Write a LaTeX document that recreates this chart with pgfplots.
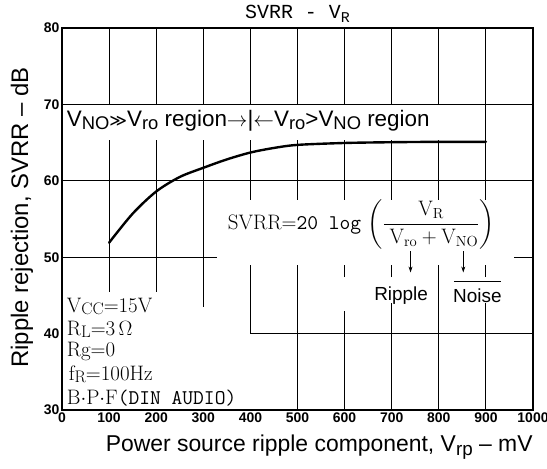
\documentclass[border=0pt]{standalone}
\usepackage{amsmath}
\usepackage{pgfplots}
\pgfplotsset{compat=1.18}
\usepackage{fontspec}
\newfontfamily\hv{Liberation Sans}
\newfontfamily\mono{Liberation Mono}
\newfontfamily\dv{DejaVu Sans}
\usetikzlibrary{arrows.meta}
\newcommand{\sbs}[1]{\raisebox{-0.3ex}{\scalebox{0.82}{#1}}}
\newcommand{\sbc}[1]{\raisebox{-0.22ex}{\scalebox{0.8}{#1}}}
\pgfplotstableread{
x y
100 51.9
150 55.7
200 58.6
250 60.5
300 61.7
350 62.8
400 63.7
450 64.3
500 64.7
600 64.95
700 65.05
800 65.1
900 65.1
}\curve
\begin{document}
\begin{tikzpicture}
\begin{axis}[
  scale only axis, width=471bp, height=382bp,
  xmin=0, xmax=1000, ymin=30, ymax=80,
  xtick={0,100,...,1000}, ytick={30,40,...,80},
  major tick length=0pt,
  tick label style={font=\hv\bfseries\fontsize{14}{14}\selectfont},
  xticklabel style={yshift=1pt},
  yticklabel style={xshift=1pt},
  /pgf/number format/assume math mode=true,
  /pgf/number format/1000 sep={},
  axis line style={line width=1.4pt},
  clip=false,
  xlabel={Power source ripple component, V\sbs{rp} – mV},
  ylabel={Ripple rejection, SVRR – dB},
  xlabel style={font=\hv\fontsize{23}{23}\selectfont, at={(axis description cs:0.546,-0.097)}, anchor=center},
  ylabel style={font=\hv\fontsize{24}{24}\selectfont, at={(axis description cs:-0.085,0.504)}, anchor=center},
]
% title
\node[anchor=base, inner sep=0pt] at (axis description cs:0.50,1.026)
  {\mono\fontsize{20}{20}\selectfont SVRR - V\raisebox{-0.4ex}{\fontsize{15}{15}\selectfont R}};
% grid segments
\begin{scope}[line width=1.1pt]
\draw (axis cs:0,70) -- (axis cs:1000,70);
\draw (axis cs:0,60) -- (axis cs:1000,60);
\draw (axis cs:0,50) -- (axis cs:330,50);
\draw (axis cs:960,50) -- (axis cs:1000,50);
\draw (axis cs:400,40) -- (axis cs:1000,40);
% x=100
\draw (axis cs:100,70) -- (axis cs:100,80);
\draw (axis cs:100,45.5) -- (axis cs:100,65.4);
% x=200
\draw (axis cs:200,70) -- (axis cs:200,80);
\draw (axis cs:200,45.5) -- (axis cs:200,65.4);
% x=300
\draw (axis cs:300,70) -- (axis cs:300,80);
\draw (axis cs:300,43.5) -- (axis cs:300,65.4);
% x=400
\draw (axis cs:400,70) -- (axis cs:400,80);
\draw (axis cs:400,57.5) -- (axis cs:400,65.4);
\draw (axis cs:400,40) -- (axis cs:400,49);
% x=500
\draw (axis cs:500,70) -- (axis cs:500,80);
\draw (axis cs:500,57.5) -- (axis cs:500,65.4);
\draw (axis cs:500,30) -- (axis cs:500,49);
% x=600
\draw (axis cs:600,70) -- (axis cs:600,80);
\draw (axis cs:600,57.5) -- (axis cs:600,65.4);
\draw (axis cs:600,30) -- (axis cs:600,43);
\draw (axis cs:600,47.4) -- (axis cs:600,49);
% x=700
\draw (axis cs:700,70) -- (axis cs:700,80);
\draw (axis cs:700,57.5) -- (axis cs:700,65.4);
\draw (axis cs:700,30) -- (axis cs:700,44.0);
\draw (axis cs:700,47.4) -- (axis cs:700,49);
% x=800
\draw (axis cs:800,70) -- (axis cs:800,80);
\draw (axis cs:800,57.5) -- (axis cs:800,65.4);
\draw (axis cs:800,30) -- (axis cs:800,49);
% x=900
\draw (axis cs:900,57.5) -- (axis cs:900,80);
\draw (axis cs:900,30) -- (axis cs:900,44.0);
\draw (axis cs:900,47.4) -- (axis cs:900,49);
\end{scope}

\addplot[black, line width=2.4pt, smooth, line cap=round] table[x=x,y=y] {\curve};

\node[anchor=west, inner sep=0pt] at (axis cs:10,67.9)
  {\hv\fontsize{22.5}{22.5}\selectfont V\sbs{NO}{\dv\fontsize{17}{17}\selectfont ≫}V\sbs{ro} region$\rightarrow$|$\leftarrow$V\sbs{ro}>V\sbs{NO} region};

\node[anchor=west, inner sep=0pt] at (axis cs:352,54.3)
  {\fontsize{21}{21}\selectfont SVRR$=${\ttfamily 20 log} $\left(\dfrac{\text{V}_{\text{R}}}{\;\text{V}_{\text{ro}}+\text{V}_{\text{NO}}}\right)$};

\draw[line width=0.8pt, -{Stealth[length=6pt,width=4pt]}] (axis cs:740,50.8) -- (axis cs:740,48.0);
\draw[line width=0.8pt, -{Stealth[length=6pt,width=4pt]}] (axis cs:852,50.8) -- (axis cs:852,48.0);
\draw[line width=0.7pt] (axis cs:832,46.9) -- (axis cs:932,46.9);
\node[anchor=center, inner sep=0pt] at (axis cs:720,45.0) {\hv\fontsize{19}{19}\selectfont Ripple};
\node[anchor=center, inner sep=0pt] at (axis cs:882,45.0) {\hv\fontsize{19}{19}\selectfont Noise};

\node[anchor=west, inner sep=0pt] at (axis cs:10,43.6) {\fontsize{21}{21}\selectfont V\sbc{CC}$=$15V};
\node[anchor=west, inner sep=0pt] at (axis cs:10,40.6) {\fontsize{21}{21}\selectfont R\sbc{L}$=$3$\,\Omega$};
\node[anchor=west, inner sep=0pt] at (axis cs:10,37.6) {\fontsize{21}{21}\selectfont Rg$=$0};
\node[anchor=west, inner sep=0pt] at (axis cs:14,34.7) {\fontsize{21}{21}\selectfont f\sbc{R}$=$100Hz};
\node[anchor=west, inner sep=0pt] at (axis cs:10,31.6) {\fontsize{21}{21}\selectfont B$\cdot$P$\cdot$F{\ttfamily (DIN AUDIO)}};
\end{axis}
\pgfresetboundingbox
\useasboundingbox ([shift={(-62bp,-59bp)}]current axis.south west) rectangle ([shift={(14bp,28bp)}]current axis.north east);
\end{tikzpicture}
\end{document}
